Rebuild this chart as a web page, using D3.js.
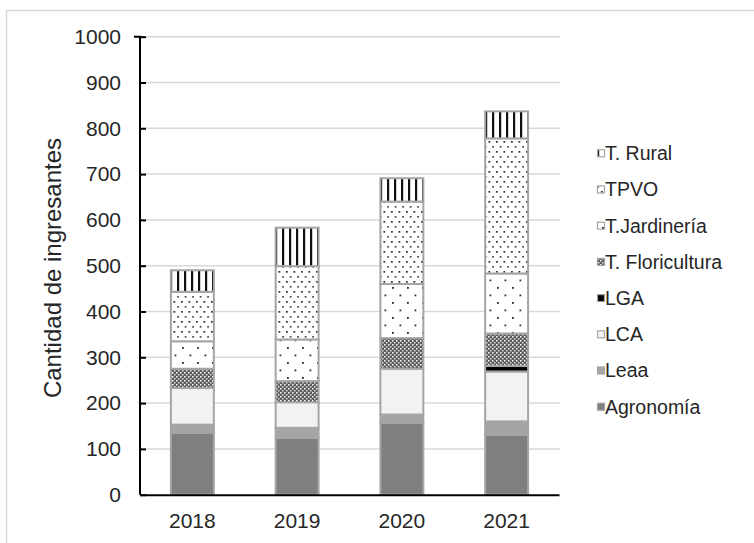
<!DOCTYPE html>
<html><head><meta charset="utf-8">
<script src="https://cdn.jsdelivr.net/npm/d3@7"></script>
<style>body{margin:0;background:#fff}svg{display:block}text{font-family:"Liberation Sans",Arial,sans-serif}</style>
</head><body><div id="chart"></div>
<script>
const years = ["2018","2019","2020","2021"];
const seriesNames = ["Agronomía","Leaa","LCA","LGA","T. Floricultura","T.Jardinería","TPVO","T. Rural"];
const agronomia = [135,124,157,131];
const leaa = [18,22,18,29];
const lca = [80,56,100,109];
const lga = [0,0,0,12];
const floricultura = [42,46,67,71];
const jardineria = [60,91,118,131];
const tpvo = [108,160,180,295];
const rural = [47,84,51,59];
const yTicks = [0,100,200,300,400,500,600,700,800,900,1000];
const axisTitle = "Cantidad de ingresantes";

const seriesValues = [agronomia,leaa,lca,lga,floricultura,jardineria,tpvo,rural];
const fills = ["#7f7f7f","#a5a5a5","#f2f2f2","#000000","url(#pFlor)","url(#pJard)","url(#pTpvo)","url(#pRural)"];

const W=754,H=543;
const svg=d3.select("#chart").append("svg").attr("width",W).attr("height",H);
const defs=svg.append("defs");
// patterns
const pR=defs.append("pattern").attr("id","pRural").attr("patternUnits","userSpaceOnUse").attr("width",7).attr("height",7);
pR.append("rect").attr("width",7).attr("height",7).attr("fill","#fff");
pR.append("rect").attr("x",2).attr("width",2.2).attr("height",7).attr("fill","#111");
const pT=defs.append("pattern").attr("id","pTpvo").attr("patternUnits","userSpaceOnUse").attr("width",7.5).attr("height",10);
pT.append("rect").attr("width",7.5).attr("height",10).attr("fill","#fff");
pT.append("rect").attr("x",1).attr("y",1).attr("width",1.7).attr("height",1.7).attr("fill","#222");
pT.append("rect").attr("x",4.75).attr("y",6).attr("width",1.7).attr("height",1.7).attr("fill","#444");
const pJ=defs.append("pattern").attr("id","pJard").attr("patternUnits","userSpaceOnUse").attr("width",15).attr("height",15);
pJ.append("rect").attr("width",15).attr("height",15).attr("fill","#fff");
pJ.append("rect").attr("x",2).attr("y",2).attr("width",1.8).attr("height",1.8).attr("fill","#222");
pJ.append("rect").attr("x",9.5).attr("y",9.5).attr("width",1.8).attr("height",1.8).attr("fill","#333");
const pF=defs.append("pattern").attr("id","pFlor").attr("patternUnits","userSpaceOnUse").attr("width",4).attr("height",4);
pF.append("rect").attr("width",4).attr("height",4).attr("fill","#5e5e5e");
pF.append("rect").attr("x",0).attr("y",0).attr("width",1.5).attr("height",1.5).attr("fill","#fff");
pF.append("rect").attr("x",2).attr("y",2).attr("width",1.5).attr("height",1.5).attr("fill","#e0e0e0");

// outer border
svg.append("rect").attr("x",6.5).attr("y",10.5).attr("width",900).attr("height",700).attr("fill","none").attr("stroke","#d9d9d9").attr("stroke-width",1.5);

const x=d3.scaleBand().domain(years).range([140,559]).padding(0);
const y=d3.scaleLinear().domain([0,1000]).range([494.7,36.7]);

// gridlines
svg.append("g").selectAll("line").data(yTicks.filter(d=>d>0)).join("line")
  .attr("x1",140).attr("x2",560).attr("y1",d=>y(d)).attr("y2",d=>y(d))
  .attr("stroke","#d9d9d9").attr("stroke-width",1.5);

// stacked data
const table=years.map((yr,i)=>{const o={year:yr};seriesNames.forEach((s,j)=>o[s]=seriesValues[j][i]);return o;});
const stack=d3.stack().keys(seriesNames)(table);
const bw=x.bandwidth()*0.41;
const g=svg.append("g");
stack.forEach((layer,j)=>{
  g.append("g").selectAll("rect").data(layer.filter(d=>d[1]-d[0]>0)).join("rect")
   .attr("x",d=>x(d.data.year)+x.bandwidth()/2-bw/2)
   .attr("width",bw)
   .attr("y",d=>y(d[1]))
   .attr("height",d=>y(d[0])-y(d[1]))
   .attr("fill",fills[j])
   .attr("stroke","#a5a5a5").attr("stroke-width",2);
});

// y axis
const yAxis=d3.axisLeft(y).tickValues(yTicks).tickSize(-6).tickPadding(19).tickFormat(d3.format("d"));
const ya=svg.append("g").attr("transform","translate(140,0)").call(yAxis);
ya.select(".domain").attr("stroke","#000").attr("stroke-width",2).attr("d","M-6,"+y(1000)+"H0V"+y(0));
ya.selectAll(".tick line").attr("stroke","#000").attr("stroke-width",2);
ya.selectAll(".tick text").attr("font-size",21).attr("fill","#262626").attr("font-family","Liberation Sans, Arial, sans-serif");

// x axis
const xAxis=d3.axisBottom(x).tickSize(0).tickPadding(18);
const xa=svg.append("g").attr("transform","translate(0,"+y(0)+")").call(xAxis);
xa.select(".domain").attr("stroke","#000").attr("stroke-width",2);
xa.selectAll(".tick text").attr("font-size",21).attr("fill","#262626").attr("font-family","Liberation Sans, Arial, sans-serif");

// axis title
svg.append("text").attr("transform","translate(61,268) rotate(-90)").attr("text-anchor","middle")
  .attr("font-size",24).attr("fill","#262626").text(axisTitle);

// legend
const legendOrder=seriesNames.map((s,j)=>j).reverse();
const lg=svg.append("g");
legendOrder.forEach((j,k)=>{
  const cy=153.3+k*36.2;
  lg.append("rect").attr("x",597.5).attr("y",cy-3.5).attr("width",7).attr("height",7)
    .attr("fill",fills[j]).attr("stroke","#a5a5a5").attr("stroke-width",1.2);
  lg.append("text").attr("x",605).attr("y",cy).attr("dy","0.35em").attr("font-size",19.5).attr("fill","#262626").text(seriesNames[j]);
});
</script></body></html>
